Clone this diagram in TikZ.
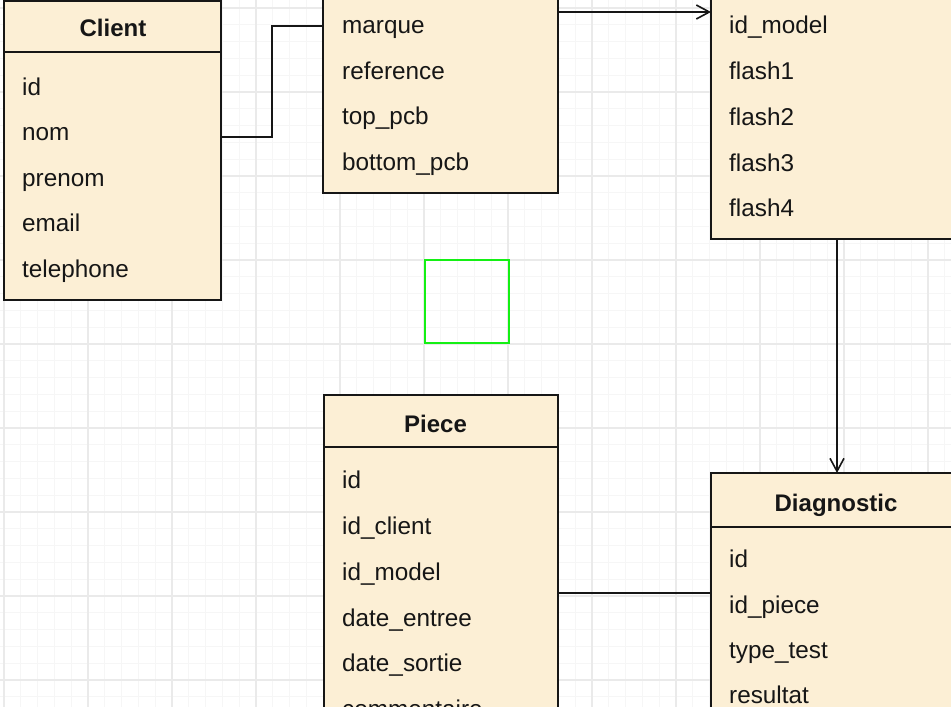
\documentclass[tikz,border=0pt]{standalone}
\usepackage{fontspec}
\setmainfont{Liberation Sans}
\usetikzlibrary{arrows.meta}
\definecolor{tblfill}{RGB}{252,239,213}
\definecolor{gridminor}{RGB}{246,246,246}
\definecolor{gridmajor}{RGB}{234,234,234}
\definecolor{selgreen}{RGB}{20,240,20}
\definecolor{ink}{RGB}{22,22,22}
\begin{document}
\begin{tikzpicture}[x=1pt,y=-1pt,
  tbl/.style={draw=ink, line width=1.6pt, fill=tblfill, rectangle, inner sep=0pt, outer sep=0pt, anchor=north west},
  sepline/.style={draw=ink, line width=1.6pt},
  ttl/.style={font=\bfseries\fontsize{24}{28}\selectfont, text=ink, anchor=base, inner sep=0pt},
  fld/.style={font=\fontsize{24.3}{28}\selectfont, text=ink, anchor=base west, inner sep=0pt},
  conn/.style={draw=ink, line width=1.6pt},
  arr/.style={conn, -{Straight Barb[length=13pt,width=14pt,line width=1.6pt]}},
  selbox/.style={draw=selgreen, line width=2pt, rectangle, inner sep=0pt, minimum width=84pt, minimum height=83pt}
]
\useasboundingbox (0,0) rectangle (951,707);
\clip (0,0) rectangle (951,707);
\fill[white] (0,0) rectangle (951,707);
% grid
\foreach \i in {0,...,56} {\draw[gridminor, line width=1pt] ({4+16.8*\i},0) -- ({4+16.8*\i},707);}
\foreach \j in {0,...,41} {\draw[gridminor, line width=1pt] (0,{8+16.8*\j}) -- (951,{8+16.8*\j});}
\foreach \i in {0,...,11} {\draw[gridmajor, line width=1.3pt] ({4+84*\i},0) -- ({4+84*\i},707);}
\foreach \j in {0,...,8} {\draw[gridmajor, line width=1.3pt] (0,{8+84*\j}) -- (951,{8+84*\j});}

% Client
\node[tbl, minimum width=217pt, minimum height=299pt] (client) at (4,1) {};
\draw[sepline] (client.west |- 0,52) -- (client.east |- 0,52);
\node[ttl] (clientT) at (113,36) {Client};
\node[fld] (c1) at (22,95) {id};
\node[fld] (c2) at (22,140) {nom};
\node[fld] (c3) at (22,186) {prenom};
\node[fld] (c4) at (22,231) {email};
\node[fld] (c5) at (22,277) {telephone};

% Model
\node[tbl, minimum width=235pt, minimum height=255pt] (model) at (323,-62) {};
\draw[sepline] (model.west |- 0,-9) -- (model.east |- 0,-9);
\node[fld] (m1) at (342,33) {marque};
\node[fld] (m2) at (342,79) {reference};
\node[fld] (m3) at (342,124) {top\_pcb};
\node[fld] (m4) at (342,170) {bottom\_pcb};

% Flash
\node[tbl, minimum width=250pt, minimum height=301pt] (flash) at (711,-62) {};
\draw[sepline] (flash.west |- 0,-9) -- (flash.east |- 0,-9);
\node[fld] (f1) at (729,33) {id\_model};
\node[fld] (f2) at (729,79) {flash1};
\node[fld] (f3) at (729,125) {flash2};
\node[fld] (f4) at (729,171) {flash3};
\node[fld] (f5) at (729,216) {flash4};

% Piece
\node[tbl, minimum width=234pt, minimum height=365pt] (piece) at (324,395) {};
\draw[sepline] (piece.west |- 0,447) -- (piece.east |- 0,447);
\node[ttl] (pieceT) at (435.5,432) {Piece};
\node[fld] (p1) at (342,488) {id};
\node[fld] (p2) at (342,534) {id\_client};
\node[fld] (p3) at (342,580) {id\_model};
\node[fld] (p4) at (342,626) {date\_entree};
\node[fld] (p5) at (342,671) {date\_sortie};
\node[fld] (p6) at (342,717) {commentaire};

% Diagnostic
\node[tbl, minimum width=250pt, minimum height=287pt] (diag) at (711,473) {};
\draw[sepline] (diag.west |- 0,527) -- (diag.east |- 0,527);
\node[ttl] (diagT) at (836,511) {Diagnostic};
\node[fld] (d1) at (729,567) {id};
\node[fld] (d2) at (729,613) {id\_piece};
\node[fld] (d3) at (729,658) {type\_test};
\node[fld] (d4) at (729,703) {resultat};

% connectors
\draw[conn] (client.east |- 0,137) -- ++(51,0) |- (model.west |- 0,26);
\draw[arr] (model.east |- 0,12) -- (flash.west |- 0,12);
\draw[arr] (flash.south -| 837,0) -- (diag.north -| 837,0);
\draw[conn] (piece.east |- 0,593) -- (diag.west |- 0,593);

% selection square
\node[selbox] (sel) at (467,301.5) {};
\end{tikzpicture}
\end{document}
